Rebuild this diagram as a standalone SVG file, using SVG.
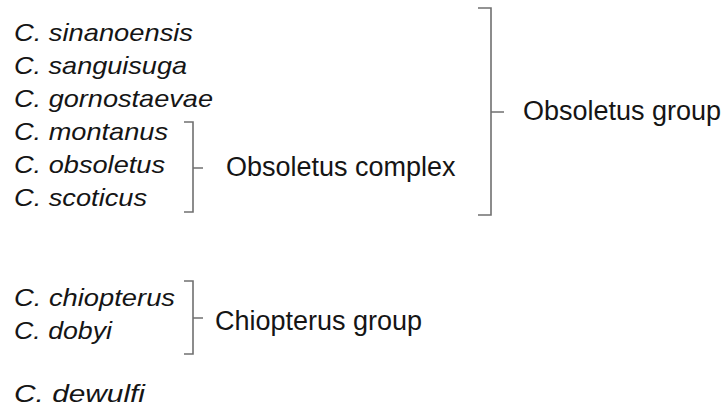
<svg xmlns="http://www.w3.org/2000/svg" width="726" height="408" viewBox="0 0 726 408">
<style>
.sp{font-family:"Liberation Sans",Arial,sans-serif;font-style:italic;font-size:24px;fill:#151515}
.lb{font-family:"Liberation Sans",Arial,sans-serif;font-size:27px;fill:#151515}
.br{fill:none;stroke:#707070;stroke-width:1.6}
</style>
<rect width="726" height="408" fill="#ffffff"/>
<g id="species">
<text class="sp" x="14" y="41" textLength="179" lengthAdjust="spacingAndGlyphs">C. sinanoensis</text>
<text class="sp" x="14" y="74" textLength="173" lengthAdjust="spacingAndGlyphs">C. sanguisuga</text>
<text class="sp" x="14" y="107" textLength="199" lengthAdjust="spacingAndGlyphs">C. gornostaevae</text>
<text class="sp" x="14" y="140" textLength="154" lengthAdjust="spacingAndGlyphs">C. montanus</text>
<text class="sp" x="14" y="173" textLength="151" lengthAdjust="spacingAndGlyphs">C. obsoletus</text>
<text class="sp" x="14" y="206" textLength="133" lengthAdjust="spacingAndGlyphs">C. scoticus</text>
<text class="sp" x="14" y="306" textLength="161" lengthAdjust="spacingAndGlyphs">C. chiopterus</text>
<text class="sp" x="14" y="339" textLength="98" lengthAdjust="spacingAndGlyphs">C. dobyi</text>
<text class="sp" x="14" y="402" textLength="131" lengthAdjust="spacingAndGlyphs">C. dewulfi</text>
</g>
<g id="connectors">
<path class="br" d="M184,122 H193 V212 H184 M193,168 H203"/>
<path class="br" d="M478,8 H491 V215 H478 M491,112 H504"/>
<path class="br" d="M184,281 H193 V354 H184 M193,318 H203"/>
</g>
<g id="obsoletus-complex"><text class="lb" x="226" y="176">Obsoletus complex</text></g>
<g id="obsoletus-group"><text class="lb" x="523" y="120">Obsoletus group</text></g>
<g id="chiopterus-group"><text class="lb" x="215" y="330">Chiopterus group</text></g>
</svg>
